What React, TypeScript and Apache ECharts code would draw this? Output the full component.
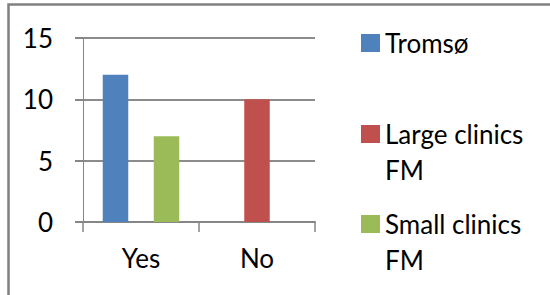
import React, { useEffect, useRef } from "react";
import * as echarts from "echarts";

const categories = ["Yes", "No"];
const tromso: (number | string)[] = [12, "-"];
const largeClinics: (number | string)[] = ["-", 10];
const smallClinics: (number | string)[] = [7, "-"];
const yTicks = [0, 5, 10, 15];

const FONT = "Lato";

export default function App() {
  const ref = useRef<HTMLDivElement>(null);
  useEffect(() => {
    if (!ref.current) return;
    const chart = echarts.init(ref.current, undefined, { renderer: "svg" });
    const legendBase = {
      orient: "vertical" as const,
      left: 361,
      padding: 0,
      itemWidth: 19,
      itemHeight: 18,
      icon: "rect",
      selectedMode: false,
    };
    const txt = { fontFamily: FONT, fontSize: 26, color: "#000" };
    const txt2 = { ...txt, lineHeight: 36 };
    chart.setOption({
      animation: false,
      backgroundColor: "#fff",
      color: ["#4F81BD", "#C0504D", "#9BBB59"],
      grid: { left: 83, right: 235, top: 38, bottom: 73 },
      legend: [
        { ...legendBase, top: 30, textStyle: txt, data: ["Tromsø"] },
        {
          ...legendBase,
          top: 80,
          textStyle: txt2,
          data: ["Large clinics FM"],
          formatter: () => "\nLarge clinics\nFM",
        },
        {
          ...legendBase,
          top: 170,
          textStyle: txt2,
          data: ["Small clinics FM"],
          formatter: () => "\nSmall clinics\nFM",
        },
      ],
      xAxis: {
        type: "category",
        data: categories,
        axisLine: { lineStyle: { color: "#868686", width: 2 } },
        axisTick: { show: true, length: 10, lineStyle: { color: "#868686", width: 1.5 } },
        axisLabel: { fontFamily: FONT, fontSize: 26, color: "#000", margin: 23 },
      },
      yAxis: {
        type: "value",
        min: yTicks[0],
        max: yTicks[yTicks.length - 1],
        interval: 5,
        axisLine: { show: true, lineStyle: { color: "#868686", width: 1 } },
        axisTick: { show: true, length: 8, lineStyle: { color: "#868686", width: 2 } },
        splitLine: { show: true, lineStyle: { color: "#8c8c8c", width: 2 } },
        axisLabel: { fontFamily: FONT, fontSize: 26, color: "#000", margin: 30 },
      },
      series: [
        { name: "Tromsø", type: "bar", data: tromso, barWidth: 25.5, barGap: "0%" },
        { name: "Large clinics FM", type: "bar", data: largeClinics, barWidth: 25.5, barGap: "0%" },
        { name: "Small clinics FM", type: "bar", data: smallClinics, barWidth: 25.5, barGap: "0%" },
      ],
      graphic: [
        {
          type: "polyline",
          shape: { points: [[8.5, 300], [8.5, 4.5], [560, 4.5]] },
          style: { stroke: "#808080", lineWidth: 2.5, fill: "none" },
          silent: true,
        },
      ],
    });
    return () => chart.dispose();
  }, []);
  return (
    <div
      ref={ref}
      style={{ position: "fixed", left: 0, top: 0, width: 550, height: 295 }}
    />
  );
}
